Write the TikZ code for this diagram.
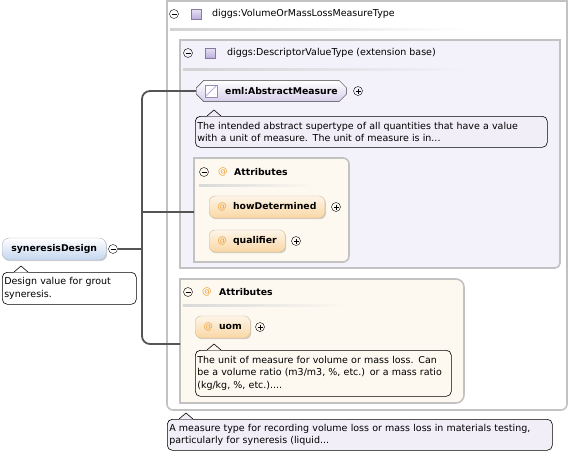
\documentclass[tikz,border=0pt]{standalone}
\usepackage{fontspec}
\setmainfont{DejaVu Sans}
\usetikzlibrary{shapes.misc,shadows}

\definecolor{linkgray}{HTML}{555555}
\definecolor{framegray}{HTML}{C2C2C2}
\definecolor{lavfill}{HTML}{F3F1F9}
\definecolor{lavdoc}{HTML}{F1EEF8}
\definecolor{creamfill}{HTML}{FDF9F0}
\definecolor{atorange}{HTML}{EFA038}
\definecolor{typelav}{HTML}{BCAEDD}
\definecolor{elblue}{HTML}{C4D6EF}
\definecolor{attpeach}{HTML}{F9D7A4}

\begin{document}
\begin{tikzpicture}[x=1pt,y=-1pt,
    font=\fontsize{9.5}{12.5}\selectfont,
    frame/.style={draw=framegray, line width=1.6pt},
    link/.style={draw=linkgray, line width=1.8pt, rounded corners=8pt},
    collapse/.style={circle,draw,thin,inner sep=0pt,minimum size=9pt,
        path picture={\draw[line width=0.6pt] ([xshift=2pt]path picture bounding box.west) -- ([xshift=-2pt]path picture bounding box.east);}},
    expand/.style={circle,draw,thin,inner sep=0pt,minimum size=9pt,
        path picture={\draw[line width=0.6pt] ([xshift=2pt]path picture bounding box.west) -- ([xshift=-2pt]path picture bounding box.east)
            ([yshift=-2pt]path picture bounding box.north) -- ([yshift=2pt]path picture bounding box.south);}},
    typeicon/.style={draw=typelav!70!black, top color=typelav!35, bottom color=typelav, minimum size=10pt, inner sep=0pt},
    element/.style={rounded corners=7pt, draw=elblue!60!gray, top color=white, bottom color=elblue,
        minimum height=22pt, inner xsep=8pt, font=\fontsize{9.3}{10}\bfseries,
        drop shadow={shadow xshift=1pt, shadow yshift=-1.2pt, opacity=0.35}},
    attrib/.style={rounded corners=6pt, draw=attpeach!70!gray, top color=attpeach!25, bottom color=attpeach,
        minimum height=22pt, inner xsep=8.5pt, font=\fontsize{9.3}{10}\bfseries,
        drop shadow={shadow xshift=1pt, shadow yshift=-1.2pt, opacity=0.35}},
    doc/.style={draw=black, line width=0.6pt, rounded corners=5pt, anchor=north west,
        align=left, inner xsep=2pt, inner ysep=2pt},
    heading/.style={anchor=west, inner sep=0pt},
]
\useasboundingbox (0,0) rectangle (570,456);

% containers
\draw[frame, fill=white] (167,1) -- (167,404) [rounded corners=6pt] -- (167,410) -- (567,410) [sharp corners] -- (567,1) -- cycle;
\draw[frame, fill=lavfill] (180,40) -- (180,268) [rounded corners=5pt] -- (560,268) [sharp corners] -- (560,40) -- cycle;
\draw[frame, fill=creamfill] (194,158) [rounded corners=6pt] -- (349,158) -- (349,262) [sharp corners] -- (194,262) -- cycle;
\draw[frame, fill=creamfill] (180,279) [rounded corners=8pt] -- (464,279) -- (464,403) [sharp corners] -- (180,403) -- cycle;

% header separators
\shade[left color=gray!35, right color=white] (170,28) rectangle (467,30);
\shade[left color=gray!35, right color=lavfill] (183,68) rectangle (467,70);
\shade[left color=gray!30, right color=creamfill] (199,184) rectangle (314,186);
\shade[left color=gray!30, right color=creamfill] (183,304) rectangle (348,306);

% headers
\node[collapse] (outmin) at (174,14) {};
\node[typeicon] (outicon) at (196,14) {};
\node[heading] (outtitle) at (212,14) {diggs:VolumeOrMassLossMeasureType};
\node[collapse] (basemin) at (188,53) {};
\node[typeicon] (baseicon) at (210,53) {};
\node[heading] (basetitle) at (227,53) {diggs:DescriptorValueType (extension base)};
\node[collapse] (attmin) at (204,172) {};
\node[heading, text=atorange] (attat) at (218,172) {@};
\node[heading, font=\fontsize{9.3}{10}\bfseries] (atttitle) at (234,172) {Attributes};
\node[collapse] (uattmin) at (188,292) {};
\node[heading, text=atorange] (uattat) at (202,292) {@};
\node[heading, font=\fontsize{9.3}{10}\bfseries] (uatttitle) at (219,292) {Attributes};

% elements
\node[element, anchor=west, minimum width=104pt] (syn) at (2,249) {syneresisDesign};
\node[collapse] (synmin) at (113,249) {};
\node[chamfered rectangle, chamfered rectangle xsep=4pt, draw=black!75, thin,
    top color=white, bottom color=typelav!60, minimum height=21pt, inner xsep=5pt,
    font=\fontsize{9.3}{10}\bfseries, anchor=west] (abs) at (196,91) {\hspace{20pt}eml:AbstractMeasure};
\draw[draw=typelav!80!black, fill=white] (205,85) rectangle (217,97);
\draw[typelav, line width=0.8pt] (206,96) -- (216,86);
\node[expand] (absplus) at (358,91) {};
\node[attrib, anchor=west] (howdet) at (209,207) {\textcolor{atorange}{\mdseries @}\hspace{6pt}howDetermined};
\node[expand] (howplus) at (336,207) {};
\node[attrib, anchor=west] (qual) at (209,241) {\textcolor{atorange}{\mdseries @}\hspace{6pt}qualifier};
\node[expand] (qualplus) at (296,241) {};
\node[attrib, anchor=west] (uom) at (195,327) {\textcolor{atorange}{\mdseries @}\hspace{6pt}uom};
\node[expand] (uomplus) at (260,327) {};

% documentation
\node[doc, fill=white, text width=130pt, minimum height=32pt] (syndoc) at (2,272)
    {Design value for grout\\syneresis.};
\node[doc, fill=lavdoc, text width=348pt, minimum height=31pt] (absdoc) at (195,116)
    {The intended abstract supertype of all quantities that have a value\\with a unit of measure. The unit of measure is in...};
\node[doc, fill=creamfill, text width=252pt, minimum height=46pt] (uomdoc) at (195,350)
    {The unit of measure for volume or mass loss. Can\\be a volume ratio (m3/m3, \%, etc.) or a mass ratio\\(kg/kg, \%, etc.)....};
\node[doc, fill=lavdoc, text width=381pt, minimum height=31pt] (typedoc) at (167,419)
    {A measure type for recording volume loss or mass loss in materials testing,\\particularly for syneresis (liquid...};
\foreach \d/\c in {syndoc/white, absdoc/lavdoc, uomdoc/creamfill, typedoc/lavdoc} {
    \fill[\c] ([xshift=12pt,yshift=-0.4pt]\d.north west) -- ([xshift=19pt,yshift=6pt]\d.north west) -- ([xshift=26pt,yshift=-0.4pt]\d.north west) -- cycle;
    \draw[line width=0.6pt] ([xshift=12pt]\d.north west) -- ([xshift=19pt,yshift=6pt]\d.north west) -- ([xshift=26pt]\d.north west);
}

% connectors
\coordinate (fork) at (142,249);
\coordinate (attA) at (194,212);
\coordinate (attB) at (180,344);
\draw[link] (synmin.east) -- (fork);
\draw[link] (fork) |- (abs.west);
\draw[link, sharp corners] (fork |- attA) -- (attA);
\draw[link] (fork) |- (attB);

\end{tikzpicture}
\end{document}
